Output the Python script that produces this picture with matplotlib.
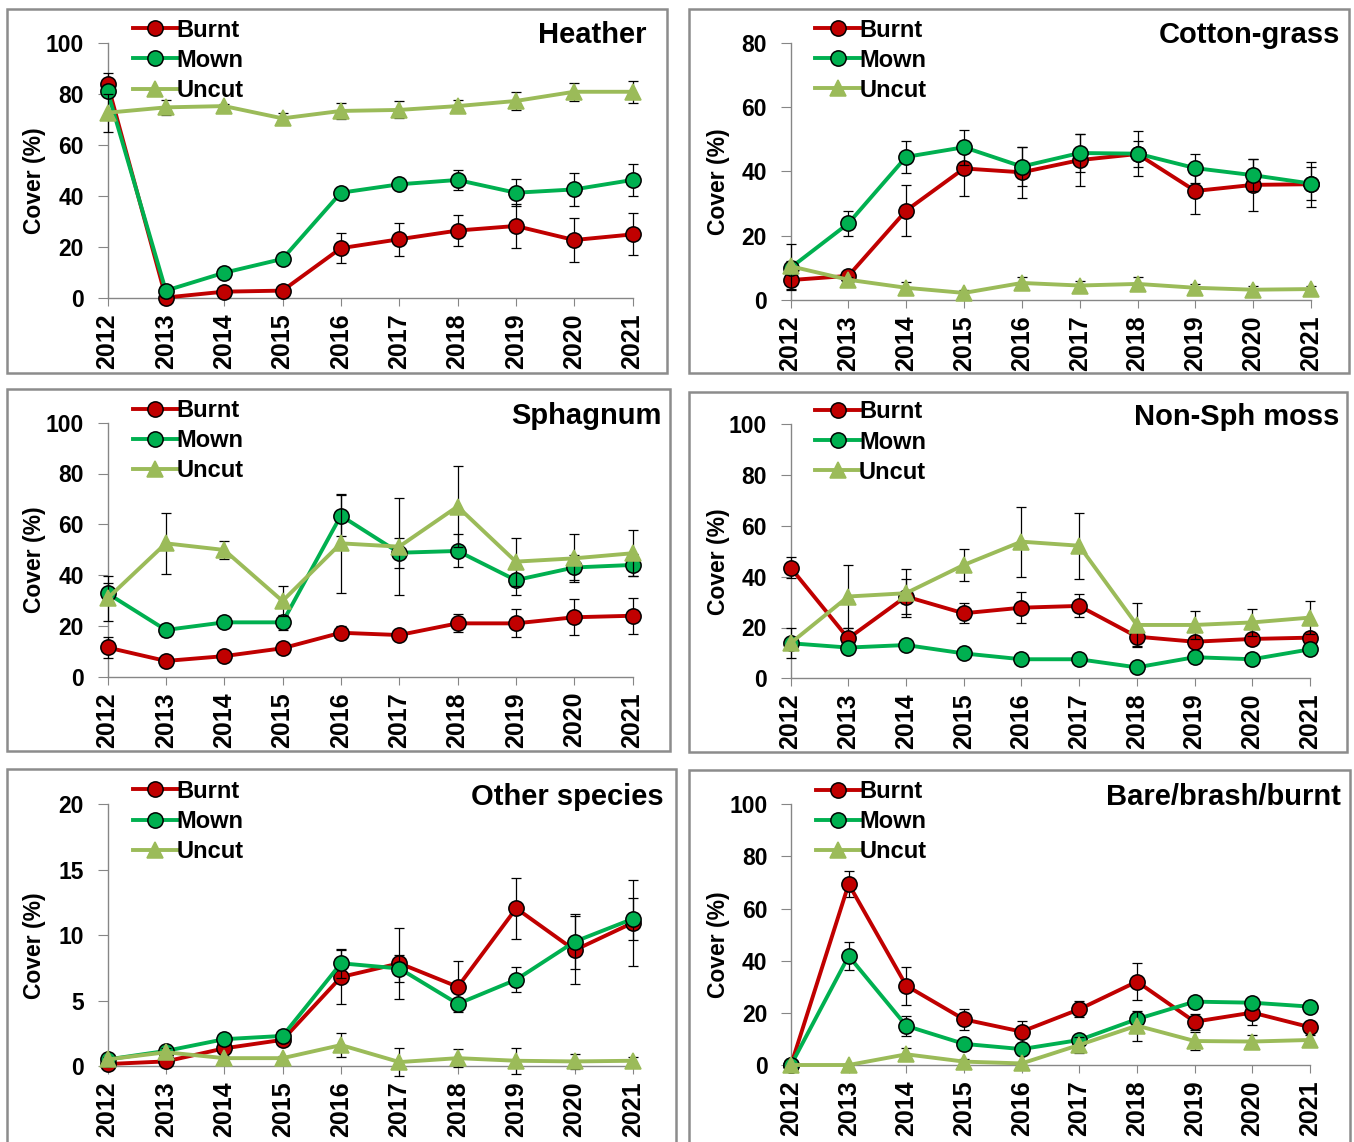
import matplotlib.pyplot as plt
from matplotlib.patches import Rectangle
import numpy as np

plt.rcParams['font.family'] = ['Liberation Sans', 'DejaVu Sans']
plt.rcParams['font.weight'] = 'bold'

years = ["2012", "2013", "2014", "2015", "2016", "2017", "2018", "2019", "2020", "2021"]
labels = ["Burnt", "Mown", "Uncut"]

# Heather
heather_burnt = [84, 0.3, 2.6, 3, 19.6, 23.1, 26.5, 28.3, 22.8, 25]
heather_burnt_err = [4, 0.5, 0.8, 0.8, 5.8, 6.5, 6.1, 8.6, 8.5, 8.2]
heather_mown = [81, 3, 10, 15.4, 41.3, 44.6, 46.3, 41.3, 42.6, 46.3]
heather_mown_err = [1.5, 1, 1, 1, 2, 1.2, 3.9, 5.2, 6.3, 6.1]
heather_uncut = [72.6, 74.7, 75.2, 70.4, 73.3, 73.7, 75.2, 77.2, 80.8, 80.8]
heather_uncut_err = [7.4, 2.9, 1, 2.2, 3.2, 3.3, 2.5, 3.6, 3.6, 4.3]

# Cotton-grass
cotton_burnt = [6.2, 7.5, 27.8, 40.9, 39.7, 43.5, 45.4, 33.9, 35.8, 36]
cotton_burnt_err = [3, 1, 8, 8.5, 8, 8, 7, 7.3, 8, 7]
cotton_mown = [10, 23.8, 44.5, 47.5, 41.5, 45.7, 45.5, 41, 38.8, 36.2]
cotton_mown_err = [2, 4, 5, 5.5, 6, 6, 4, 4.5, 5, 5]
cotton_uncut = [10.5, 6.3, 3.8, 2.2, 5.3, 4.5, 5, 3.8, 3.2, 3.4]
cotton_uncut_err = [7, 1, 1.8, 1, 2, 1.5, 2, 1.2, 1, 1]

# Sphagnum
sphag_burnt = [11.5, 6.2, 8.1, 11.2, 17.3, 16.4, 21, 21, 23.4, 24]
sphag_burnt_err = [4, 1, 1, 1.5, 2.5, 2, 3.5, 5.5, 7, 7]
sphag_mown = [32.8, 18.4, 21.4, 21.4, 63.4, 48.8, 49.5, 38, 43, 44]
sphag_mown_err = [4, 2.5, 1, 3, 8, 6, 6.5, 6, 5, 4.5]
sphag_uncut = [30.8, 52.5, 49.9, 29.8, 52.5, 51.2, 67, 45.3, 46.6, 48.6]
sphag_uncut_err = [9, 12, 3.5, 6, 19.5, 19, 16, 9.5, 9.5, 9]

# Non-Sph moss
moss_burnt = [43.6, 15.7, 32.2, 25.6, 27.8, 28.5, 16.4, 14.4, 15.5, 16]
moss_burnt_err = [4, 4, 7, 4, 6, 4.5, 3.5, 2, 2, 2]
moss_mown = [13.8, 12.1, 13.1, 9.8, 7.5, 7.5, 4.3, 8.3, 7.5, 11.4]
moss_mown_err = [1.5, 1.5, 1.5, 1.5, 1.5, 1.5, 1.5, 1.5, 1.5, 1.5]
moss_uncut = [13.8, 32.2, 33.5, 44.6, 53.8, 52.2, 21, 21, 22, 23.9]
moss_uncut_err = [6, 12.5, 9.5, 6.3, 13.8, 13, 8.5, 5.5, 5.2, 6.5]

# Other species
other_burnt = [0.15, 0.35, 1.35, 2.0, 6.8, 7.85, 6.05, 12.05, 8.85, 10.95]
other_burnt_err = [0.1, 0.2, 0.3, 0.4, 2.05, 2.7, 1.95, 2.35, 2.6, 3.3]
other_mown = [0.5, 1.15, 2.05, 2.3, 7.85, 7.45, 4.75, 6.6, 9.5, 11.25]
other_mown_err = [0.2, 0.3, 0.3, 0.3, 1.1, 1.05, 0.4, 0.95, 2.1, 1.6]
other_uncut = [0.5, 1.05, 0.6, 0.6, 1.6, 0.3, 0.6, 0.4, 0.35, 0.4]
other_uncut_err = [0.2, 0.3, 0.2, 0.2, 0.95, 1.05, 0.7, 1, 0.6, 0.3]

# Bare/brash/burnt
bare_burnt = [0, 69.4, 30.4, 17.5, 12.8, 21.4, 32, 16.6, 20.1, 14.5]
bare_burnt_err = [0, 5, 7.3, 3.9, 4.2, 3, 7, 3, 4.8, 2]
bare_mown = [0, 41.8, 15, 8.1, 6.1, 9.6, 17.6, 24.3, 23.9, 22.4]
bare_mown_err = [0, 5.3, 3.8, 1.5, 1.5, 1.5, 2.5, 1.5, 1.5, 1.5]
bare_uncut = [0, 0, 4.1, 1.3, 0.6, 7.7, 15.1, 9.2, 9, 9.6]
bare_uncut_err = [0, 0, 2.3, 1, 0.5, 3, 5.8, 3.5, 2.5, 2]

W, H = 1354, 1142
fig = plt.figure(figsize=(W / 100, H / 100), dpi=100)

cols = ["#C00000", "#00B050", "#9BBB59"]
grey = "#868686"


def fx(px):
    return px / W


def fy(py):
    return 1 - py / H


# pixel boxes: frame (x0, y0, x1, y1), axes (left, top, right, bottom), title (right x, centre y)
panels = [
    ("Heather", (6.7, 9.3, 666.7, 372.7), (107.5, 42.7, 632.5, 298.3), (646, 35), 100, 20,
     heather_burnt, heather_burnt_err, heather_mown, heather_mown_err, heather_uncut, heather_uncut_err),
    ("Cotton-grass", (689.3, 9.3, 1349.3, 373.3), (790.5, 42.7, 1311, 300), (1340, 35), 80, 20,
     cotton_burnt, cotton_burnt_err, cotton_mown, cotton_mown_err, cotton_uncut, cotton_uncut_err),
    ("Sphagnum", (6.7, 389.3, 670, 750.7), (107.5, 422.7, 632.5, 676.7), (662, 416), 100, 20,
     sphag_burnt, sphag_burnt_err, sphag_mown, sphag_mown_err, sphag_uncut, sphag_uncut_err),
    ("Non-Sph moss", (689.3, 391.7, 1346.7, 752.3), (790.5, 424.3, 1310, 678.3), (1339, 417), 100, 20,
     moss_burnt, moss_burnt_err, moss_mown, moss_mown_err, moss_uncut, moss_uncut_err),
    ("Other species", (6.7, 769.3, 676, 1150), (107.5, 804.3, 633, 1066), (664, 797), 20, 5,
     other_burnt, other_burnt_err, other_mown, other_mown_err, other_uncut, other_uncut_err),
    ("Bare/brash/burnt", (689.3, 770, 1350, 1150), (791, 804.3, 1310, 1065), (1341, 797), 100, 20,
     bare_burnt, bare_burnt_err, bare_mown, bare_mown_err, bare_uncut, bare_uncut_err),
]

x = np.arange(len(years))

for p in panels:
    title, frame, box, tpos, ymax, ystep = p[:6]
    series = [(p[6], p[7]), (p[8], p[9]), (p[10], p[11])]

    fig.add_artist(Rectangle((fx(frame[0]), fy(frame[3])), fx(frame[2] - frame[0]),
                             (frame[3] - frame[1]) / H, transform=fig.transFigure,
                             fill=False, edgecolor="#8C8C8C", lw=1.8))

    ax = fig.add_axes([fx(box[0]), fy(box[3]), fx(box[2] - box[0]), (box[3] - box[1]) / H])

    for i, (vals, errs) in enumerate(series):
        marker = "^" if i == 2 else "o"
        ms = 12 if i == 2 else 11
        mec = cols[i] if i == 2 else "black"
        ax.errorbar(x, vals, yerr=errs, fmt="none", ecolor="black", elinewidth=0.9,
                    capsize=3.5, capthick=0.9, zorder=3 + i, clip_on=False)
        ax.plot(x, vals, color=cols[i], lw=2.8, marker=marker, ms=ms, mfc=cols[i],
                mec=mec, mew=1.1, label=labels[i], zorder=4 + i, clip_on=False)

    ax.set_xlim(0, len(years) - 1)
    ax.set_ylim(0, ymax)
    ax.set_yticks(np.arange(0, ymax + 0.1, ystep))
    ax.set_xticks(x)
    ax.set_xticklabels(years, rotation=90, fontsize=18, fontweight="bold")
    ax.tick_params(axis="y", labelsize=16.5, length=7, color=grey, pad=10)
    ax.tick_params(axis="x", length=6, color=grey, pad=5)
    for s in ["top", "right"]:
        ax.spines[s].set_visible(False)
    for s in ["left", "bottom"]:
        ax.spines[s].set_color(grey)
        ax.spines[s].set_linewidth(1.0)
    ax.patch.set_visible(False)

    ax.set_ylabel("Cover (%)", fontsize=16.5, fontweight="bold")
    ax.yaxis.set_label_coords(-0.117, 0.46)

    ax.legend(loc="upper left", bbox_to_anchor=(0.048, 1.094), frameon=False,
              handlelength=1.9, handletextpad=-0.05, labelspacing=0.3,
              borderpad=0, borderaxespad=0, prop={"weight": "bold", "size": 17})

    fig.text(fx(tpos[0]), fy(tpos[1]), title, ha="right", va="center",
             fontsize=21, fontweight="bold")

fig.savefig("out.png", dpi=100)
